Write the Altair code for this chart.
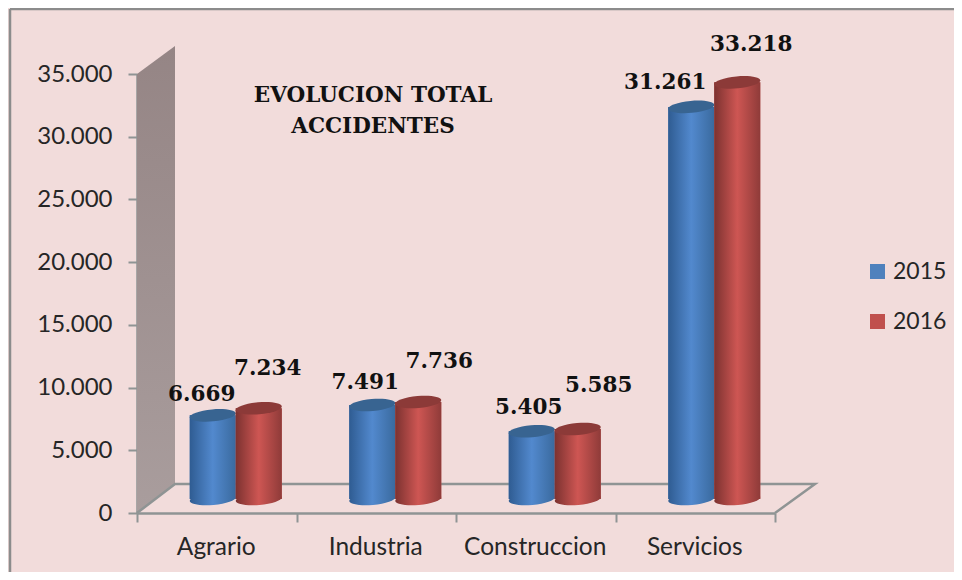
import altair as alt
import pandas as pd

categories = ["Agrario", "Industria", "Construccion", "Servicios"]
values_2015 = [6669, 7491, 5405, 31261]
values_2016 = [7234, 7736, 5585, 33218]
y_ticks = [0, 5000, 10000, 15000, 20000, 25000, 30000, 35000]

GREY = "#8F9494"
INK = "#262626"
PINK = "#F2DCDB"

rows = []
for c, a, b in zip(categories, values_2015, values_2016):
    rows.append({"cat": c, "year": "2015", "value": a})
    rows.append({"cat": c, "year": "2016", "value": b})
df = pd.DataFrame(rows)

x_cat = alt.X("cat:N", sort=categories, title=None, axis=None,
              scale=alt.Scale(domain=categories, range=[0, 638], paddingInner=0, paddingOuter=0))
x_cat_axis = alt.X("cat:N", sort=categories, title=None,
                   scale=alt.Scale(domain=categories, range=[0, 638], paddingInner=0, paddingOuter=0),
                   axis=alt.Axis(labelAngle=0, labelFont="Lato", labelFontSize=24.5, labelColor=INK,
                                 labelPadding=13, labelOffset=-1, tickSize=9, tickWidth=2, tickColor=GREY,
                                 domainColor=GREY, domainWidth=2.5, tickBand="extent", grid=False))
y_scale = alt.Scale(domain=[0, 35000], range=[467, 28], nice=False, zero=False)
y_axis = alt.Axis(values=y_ticks, labelExpr="replace(format(datum.value, ','), ',', '.')",
                  labelFont="Lato", labelFontSize=24, labelColor=INK, labelPadding=16,
                  tickSize=9, tickWidth=2, tickColor=GREY, domainColor=GREY,
                  domainWidth=2.5, grid=False)
y_plain = alt.Y("value:Q", scale=y_scale, title=None, axis=y_axis)
y_zero = alt.Y("zero:Q", scale=y_scale, title=None, axis=y_axis)

x_px = alt.X("px:Q", scale=alt.Scale(domain=[0, 678], range=[0, 678], nice=False, zero=False),
             axis=None, title=None)

wall_df = pd.DataFrame({"px": [0, 38], "value": [35000, 37232], "low": [0, 2312]})
wall = alt.Chart(wall_df).mark_area(
    color=alt.LinearGradient(gradient="linear", x1=0, x2=0, y1=0, y2=1,
                             stops=[alt.GradientStop(color="#958585", offset=0),
                                    alt.GradientStop(color="#A99D9D", offset=1)])
).encode(x=x_px, y=y_plain, y2="low:Q")

floor_df = pd.DataFrame({"px": [0, 38, 678, 638], "value": [0, 2312, 2312, 0], "o": [0, 1, 2, 3]})
floor = alt.Chart(floor_df).mark_line(color=GREY, strokeWidth=2.5).encode(
    x=x_px, y=y_plain, order="o:Q")

base_bars = alt.Chart(df[df.year == "2015"].assign(zero=0)).mark_bar(size=1, opacity=0).encode(
    x=x_cat_axis, y=y_plain
)

ELLIPSE = "M-1,0.09 A1,0.26 -5 1 1 1,-0.09 A1,0.26 -5 1 1 -1,0.09 Z"
BODY = {
    "2015": ("#2F5C92", "#5289CE", "#3A6A9E", "#386491", -4),
    "2016": ("#7C3230", "#CE5653", "#8F3B39", "#8C3A38", 42),
}
Y_SHIFT = -14


def cylinder(year):
    edge, mid, edge2, top, dx = BODY[year]
    grad = alt.LinearGradient(gradient="linear", x1=0, x2=1, y1=0, y2=0,
                              stops=[alt.GradientStop(color=edge, offset=0),
                                     alt.GradientStop(color=mid, offset=0.5),
                                     alt.GradientStop(color=edge2, offset=1)])
    d = df[df.year == year].assign(zero=0)
    colour = alt.Color("year:N", scale=alt.Scale(domain=["2015", "2016"], range=["#4F81BD", "#C0504D"]),
                       legend=alt.Legend(title=None, orient="none", legendX=729, legendY=214,
                                         symbolType="square", symbolSize=225, symbolStrokeWidth=0,
                                         labelFont="Lato", labelFontSize=23, labelColor=INK,
                                         rowPadding=26, labelOffset=4))
    solid = alt.Chart(d).mark_bar(size=46, xOffset=dx, yOffset=Y_SHIFT, y2Offset=Y_SHIFT).encode(
        x=x_cat, y=y_plain, y2="zero:Q", color=colour)
    body = alt.Chart(d).mark_bar(size=46, xOffset=dx, yOffset=Y_SHIFT, y2Offset=Y_SHIFT, color=grad).encode(
        x=x_cat, y=y_plain, y2="zero:Q")
    bottom = alt.Chart(d).mark_point(shape=ELLIPSE, filled=True, size=2116, opacity=1, fill=grad,
                                     xOffset=dx, yOffset=Y_SHIFT).encode(x=x_cat, y=y_zero)
    cap = alt.Chart(d).mark_point(shape=ELLIPSE, filled=True, size=2116, opacity=1, fill=top,
                                  xOffset=dx, yOffset=Y_SHIFT).encode(x=x_cat, y=y_plain)
    return [bottom, solid, body, cap]


label_nudges = {
    ("Agrario", "2015"): (-15, -34), ("Agrario", "2016"): (51, -53),
    ("Industria", "2015"): (-11, -36), ("Industria", "2016"): (63, -54),
    ("Construccion", "2015"): (-7, -37), ("Construccion", "2016"): (63, -57),
    ("Servicios", "2015"): (-30, -38), ("Servicios", "2016"): (56, -51),
}
labels = []
for (c, yr), (dx, dy) in label_nudges.items():
    d = df[(df.cat == c) & (df.year == yr)]
    labels.append(
        alt.Chart(d).transform_calculate(label="replace(format(datum.value, ','), ',', '.')")
        .mark_text(font="DejaVu Serif", fontWeight="bold", fontSize=21.5, color="#111111",
                   dx=dx, dy=dy, align="center", baseline="middle")
        .encode(x=x_cat, y=y_plain, text="label:N")
    )

title = alt.Chart(pd.DataFrame({"a": [0]})).mark_text(
    text=["EVOLUCION TOTAL", "ACCIDENTES"], font="DejaVu Serif", fontWeight="bold", fontSize=21.5,
    lineHeight=31, color="#111111", align="center", baseline="top"
).encode(x=alt.value(236), y=alt.value(39))

border_left = alt.Chart(pd.DataFrame({"a": [0]})).mark_rule(color="#8C8C8C", strokeWidth=2.5).encode(
    x=alt.value(-127), y=alt.value(-37), y2=alt.value(540))
border_top = alt.Chart(pd.DataFrame({"a": [0]})).mark_rule(color="#8C8C8C", strokeWidth=2.5).encode(
    y=alt.value(-37), x=alt.value(-127), x2=alt.value(830))

layers = [wall, floor, base_bars] + cylinder("2015") + cylinder("2016") + labels + [title, border_left, border_top]

chart = alt.layer(*layers).resolve_scale(x="independent").properties(
    width=678, height=467, background=PINK,
    padding={"left": 129, "top": 38, "right": 139, "bottom": 59},
    autosize=alt.AutoSizeParams(type="none"),
).configure_view(stroke=None)

chart.save("out.html", embed_options={"renderer": "svg", "actions": False})
